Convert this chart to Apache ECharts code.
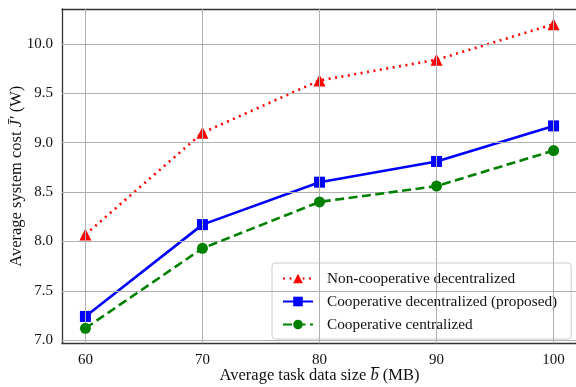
<!DOCTYPE html>
<html>
<head>
<meta charset="utf-8">
<script src="https://cdn.jsdelivr.net/npm/echarts@6/dist/echarts.min.js"></script>
<style>html,body{margin:0;padding:0;background:#fff}#c{width:576px;height:387px}</style>
</head>
<body>
<div id="c"></div>
<script>
var xValues = [60, 70, 80, 90, 100];
var nonCoopDecentral = [8.07, 9.10, 9.63, 9.84, 10.20];
var coopDecentral = [7.24, 8.17, 8.60, 8.81, 9.17];
var coopCentral = [7.12, 7.93, 8.40, 8.56, 8.92];
var seriesNames = ['Non-cooperative decentralized', 'Cooperative decentralized (proposed)', 'Cooperative centralized'];
var xTicks = [60, 70, 80, 90, 100];
var yTicks = [7.0, 7.5, 8.0, 8.5, 9.0, 9.5, 10.0];

function pairs(v){ return xValues.map(function(x,i){return [x, v[i]];}); }
var font = 'Liberation Serif, Times New Roman, serif';
var chart = echarts.init(document.getElementById('c'));
chart.setOption({
  animation: false,
  textStyle: {fontFamily: font},
  grid: {left: 62, top: 9, width: 515, height: 334.5, containLabel: false, outerBoundsMode: 'none'},
  xAxis: [{
    type: 'value', min: 58, max: 102, interval: 10,
    axisLine: {show: true, lineStyle: {color: '#333', width: 1.3}},
    axisTick: {show: true, inside: true, length: 4, lineStyle: {color: '#000', width: 1}, customValues: xTicks},
    axisLabel: {color: '#111', fontSize: 15, fontFamily: font, margin: 9, customValues: xTicks, formatter: function(v){return String(v);}},
    splitLine: {show: false},
    name: 'Average task data size {i|b\u0305} (MB)',
    nameLocation: 'middle', nameGap: 24, nameMoveOverlap: false,
    nameTextStyle: {color: '#111', fontSize: 16.5, fontFamily: font, rich: {i: {fontStyle: 'italic', fontSize: 16.5, fontFamily: font, color: '#111'}}}
  }, {
    type: 'value', position: 'top', min: 58, max: 102,
    axisLine: {show: true, lineStyle: {color: '#333', width: 1.3}},
    axisTick: {show: false}, axisLabel: {show: false}, splitLine: {show: false}
  }],
  yAxis: {
    type: 'value', min: 6.966, max: 10.354,
    axisLine: {show: true, lineStyle: {color: '#333', width: 1.3}},
    axisTick: {show: true, inside: true, length: 4, lineStyle: {color: '#000', width: 1}, customValues: yTicks},
    axisLabel: {color: '#111', fontSize: 15, fontFamily: font, margin: 9, customValues: yTicks, formatter: function(v){return v.toFixed(1);}},
    splitLine: {show: false},
    name: 'Average system cost {i|J\u0304\u2032} (W)',
    nameLocation: 'middle', nameGap: 37, nameMoveOverlap: false,
    nameTextStyle: {color: '#111', fontSize: 16.5, fontFamily: font, rich: {i: {fontStyle: 'italic', fontSize: 16.5, fontFamily: font, color: '#111'}}}
  },
  legend: {
    orient: 'vertical', left: 272, top: 263,
    backgroundColor: '#fff', borderColor: '#ccc', borderWidth: 1, borderRadius: 3,
    padding: [8, 14, 7, 10], itemGap: 8, itemWidth: 30, itemHeight: 12,
    textStyle: {fontSize: 15.3, fontFamily: font, color: '#111', padding: [0, 0, 0, 9]},
    data: seriesNames
  },
  series: [
    {name: '_vgrid', type: 'line', data: [], markLine: {silent: true, symbol: 'none', label: {show: false},
      lineStyle: {color: '#b0b0b0', width: 1, type: 'solid'},
      data: xTicks.map(function(t){return {xAxis: t};}).concat(yTicks.map(function(t){return {yAxis: t};}))}},
    {name: seriesNames[0], type: 'line', data: pairs(nonCoopDecentral), color: '#ff0000',
      symbol: 'triangle', symbolSize: 12, lineStyle: {type: [2, 4.5], width: 2.6, color: '#ff0000'}, itemStyle: {color: '#ff0000'}, z: 3},
    {name: seriesNames[1], type: 'line', data: pairs(coopDecentral), color: '#0000ff',
      symbol: 'rect', symbolSize: 11, lineStyle: {type: 'solid', width: 2.6, color: '#0000ff'}, itemStyle: {color: '#0000ff'}, z: 4},
    {name: seriesNames[2], type: 'line', data: pairs(coopCentral), color: '#008000',
      symbol: 'circle', symbolSize: 11, lineStyle: {type: [9, 4.5], width: 2.6, color: '#008000'}, itemStyle: {color: '#008000'}, z: 5}
  ]
});
</script>
</body>
</html>
